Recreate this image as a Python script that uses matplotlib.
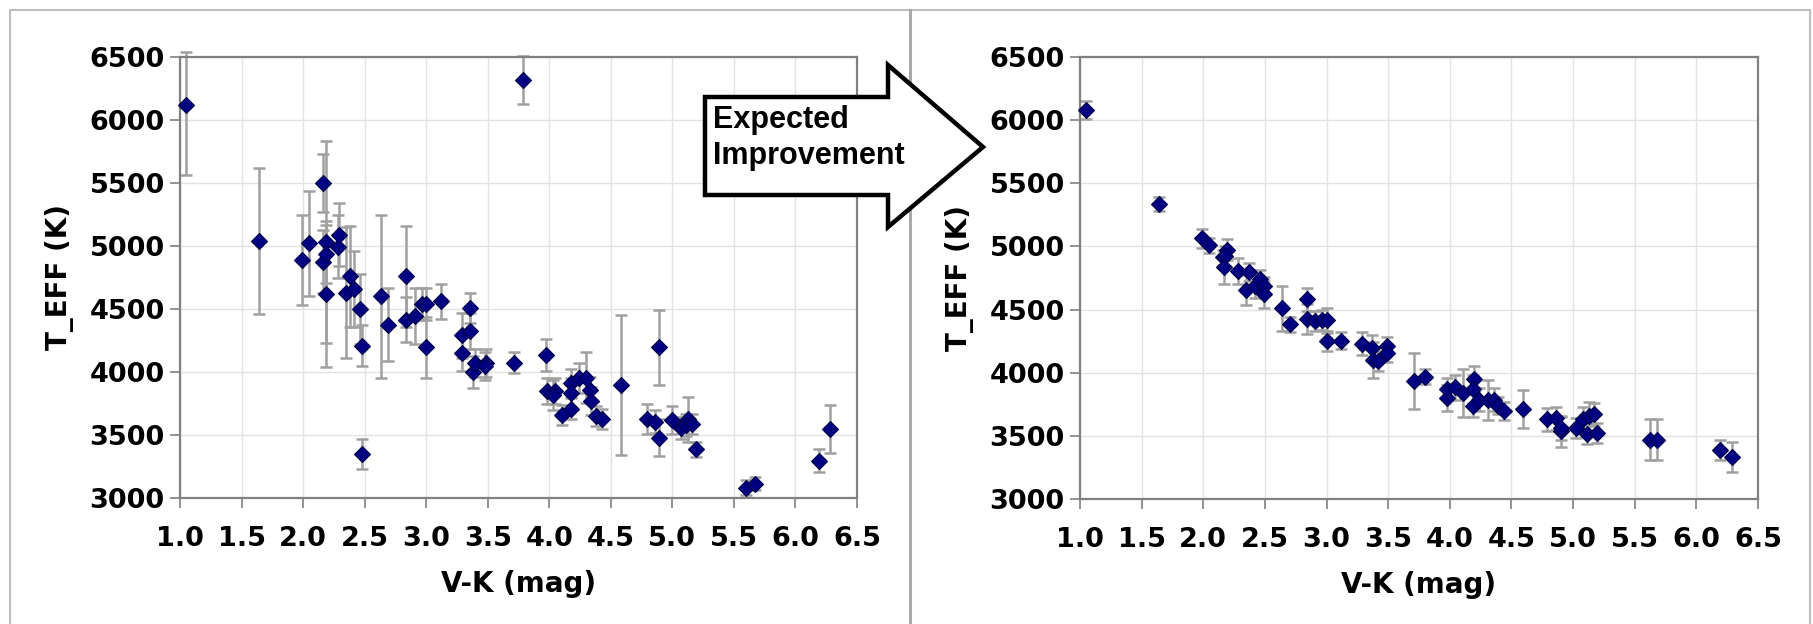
import matplotlib
matplotlib.use("Agg")
import matplotlib.pyplot as plt
from matplotlib.patches import Polygon
from matplotlib.lines import Line2D

# ---------------- data ----------------
left_vk = [1.05, 1.64, 1.99, 2.05, 2.16, 2.19, 2.16, 2.19, 2.19, 2.28, 2.29, 2.38, 2.35,
           2.41, 2.46, 2.48, 2.48, 2.63, 2.69, 2.84, 2.84, 2.91, 2.97, 3.00, 3.00, 3.12,
           3.29, 3.29, 3.36, 3.36, 3.38, 3.40, 3.49, 3.48, 3.71, 3.79, 3.97, 3.98, 4.05,
           4.03, 4.10, 4.18, 4.18, 4.18, 4.24, 4.30, 4.33, 4.34, 4.38, 4.43, 4.58, 4.79,
           4.86, 4.89, 4.89, 5.00, 5.07, 5.13, 5.11, 5.16, 5.19, 5.60, 5.67, 6.19, 6.28]
left_teff = [6120, 5040, 4890, 5020, 5500, 5030, 4875, 4935, 4620, 4995, 5090, 4760, 4630,
             4660, 4500, 4210, 3350, 4600, 4375, 4760, 4415, 4445, 4540, 4540, 4195, 4560,
             4290, 4150, 4510, 4325, 4000, 4070, 4070, 4050, 4075, 6320, 4135, 3850, 3850,
             3820, 3660, 3915, 3830, 3710, 3955, 3955, 3860, 3770, 3650, 3625, 3900, 3625,
             3605, 3480, 4195, 3620, 3555, 3625, 3580, 3590, 3385, 3080, 3115, 3295, 3550]
left_err_low = [560, 580, 360, 420, 230, 800, 250, 230, 580, 250, 250, 400, 520,
                300, 280, 165, 120, 650, 290, 400, 180, 220, 130, 130, 240, 140,
                180, 140, 120, 140, 130, 110, 110, 110, 85, 190, 125, 100, 100,
                120, 80, 110, 120, 80, 120, 200, 100, 110, 80, 80, 555, 120,
                90, 150, 300, 110, 90, 180, 90, 80, 60, 60, 50, 90, 190]
left_err_high = [420, 580, 360, 420, 230, 800, 250, 230, 580, 250, 250, 400, 520,
                 300, 280, 165, 120, 650, 290, 400, 180, 220, 130, 130, 240, 140,
                 180, 140, 120, 140, 130, 110, 110, 110, 85, 190, 125, 100, 100,
                 120, 80, 110, 120, 80, 120, 200, 100, 110, 80, 80, 555, 120,
                 90, 150, 300, 110, 90, 180, 90, 80, 60, 60, 50, 90, 190]

right_vk = [1.05, 1.64, 1.99, 2.05, 2.16, 2.19, 2.18, 2.17, 2.28, 2.37, 2.35, 2.42, 2.46,
            2.49, 2.49, 2.64, 2.70, 2.84, 2.84, 2.91, 2.96, 3.00, 3.00, 3.12, 3.29, 3.37,
            3.38, 3.42, 3.49, 3.49, 3.71, 3.80, 3.98, 3.98, 4.04, 4.11, 4.20, 4.19, 4.19,
            4.24, 4.31, 4.36, 4.39, 4.44, 4.59, 4.79, 4.86, 4.90, 4.90, 5.02, 5.08, 5.13,
            5.17, 5.11, 5.19, 5.62, 5.68, 6.19, 6.29]
right_teff = [6080, 5335, 5065, 5010, 4915, 4975, 4925, 4835, 4805, 4800, 4655, 4690, 4745,
              4685, 4620, 4510, 4385, 4580, 4425, 4410, 4420, 4415, 4250, 4255, 4230, 4195,
              4100, 4095, 4210, 4155, 3935, 3970, 3800, 3870, 3885, 3840, 3950, 3870, 3740,
              3785, 3785, 3785, 3740, 3695, 3710, 3630, 3640, 3535, 3560, 3565, 3635, 3660,
              3670, 3515, 3520, 3470, 3470, 3390, 3330]
right_err = [70, 55, 75, 60, 60, 80, 80, 130, 100, 70, 120, 100, 70,
             70, 110, 180, 60, 90, 120, 80, 80, 100, 80, 70, 90, 100,
             140, 80, 70, 70, 220, 60, 100, 90, 100, 190, 100, 110, 90,
             90, 160, 90, 70, 70, 150, 90, 90, 120, 90, 80, 90, 110,
             90, 80, 80, 160, 165, 80, 120]

x_ticks = [1.0, 1.5, 2.0, 2.5, 3.0, 3.5, 4.0, 4.5, 5.0, 5.5, 6.0, 6.5]
y_ticks = [3000, 3500, 4000, 4500, 5000, 5500, 6000, 6500]
x_label = "V-K (mag)"
y_label = "T_EFF (K)"
arrow_text = "Expected\nImprovement"

# ---------------- figure ----------------
W, H = 1813, 624
fig = plt.figure(figsize=(W / 100, H / 100), dpi=100)
fig.patch.set_facecolor("white")


def fx(px):
    return px / W


def fy(py):
    return 1 - py / H


def style_axes(ax):
    ax.set_xlim(1.0, 6.5)
    ax.set_ylim(3000, 6500)
    ax.set_xticks(x_ticks)
    ax.set_yticks(y_ticks)
    ax.set_xticklabels([f"{t:.1f}" for t in x_ticks])
    ax.set_yticklabels([str(t) for t in y_ticks])
    ax.grid(True, color="#e3e3e3", linewidth=1.0, zorder=0)
    ax.set_axisbelow(True)
    for s in ax.spines.values():
        s.set_color("#808080")
        s.set_linewidth(1.6)
    ax.tick_params(axis="both", direction="out", length=7, width=1.2,
                   color="#808080", labelsize=19.5, pad=4)
    ax.tick_params(axis="x", pad=13)
    for lab in ax.get_xticklabels() + ax.get_yticklabels():
        lab.set_fontweight("bold")
    ax.set_xlabel(x_label, fontsize=20, fontweight="bold", labelpad=13)
    ax.set_ylabel(y_label, fontsize=20, fontweight="bold", labelpad=11)


def draw(ax, xs, ys, elo, ehi):
    eb = ax.errorbar(xs, ys, yerr=[elo, ehi], fmt="none", ecolor="#a0a0a0",
                     elinewidth=1.8, capsize=4.5, capthick=1.8, zorder=2)
    for art in eb.lines[1] + eb.lines[2]:
        art.set_clip_on(False)
    ax.plot(xs, ys, linestyle="none", marker="D", markersize=8.5,
            markerfacecolor="#000080", markeredgecolor="#00004a",
            markeredgewidth=0.8, zorder=3, clip_on=False)


ax1 = fig.add_axes([fx(180), fy(498), fx(857) - fx(180), fy(57) - fy(498)])
ax2 = fig.add_axes([fx(1080), fy(499), fx(1758) - fx(1080), fy(57) - fy(499)])
style_axes(ax1)
draw(ax1, left_vk, left_teff, left_err_low, left_err_high)
style_axes(ax2)
draw(ax2, right_vk, right_teff, right_err, right_err)

# panel borders
border_kw = dict(color="#bdbdbd", linewidth=1.5, transform=fig.transFigure)
fig.add_artist(Line2D([fx(10), fx(1810)], [fy(10), fy(10)], **border_kw))
fig.add_artist(Line2D([fx(10), fx(10)], [fy(10), 0], **border_kw))
fig.add_artist(Line2D([fx(1810), fx(1810)], [fy(10), 0], **border_kw))
fig.add_artist(Line2D([fx(910), fx(910)], [fy(10), 0], color="#a8a8a8",
                      linewidth=2.2, transform=fig.transFigure))

# block arrow
arrow_px = [(705, 97), (888, 97), (888, 65), (983, 147), (888, 227), (888, 195), (705, 195)]
poly = Polygon([(fx(a), fy(b)) for a, b in arrow_px], closed=True,
               facecolor="white", edgecolor="black", linewidth=3.2,
               joinstyle="miter", transform=fig.transFigure, zorder=10)
fig.add_artist(poly)
lines = arrow_text.split("\n")
fig.text(fx(713), fy(128), lines[0], fontsize=22, fontweight="bold",
         family="Liberation Sans", va="baseline", ha="left", zorder=11)
fig.text(fx(713), fy(164), lines[1], fontsize=22, fontweight="bold",
         family="Liberation Sans", va="baseline", ha="left", zorder=11)

fig.savefig("out.png", dpi=100, facecolor="white")
